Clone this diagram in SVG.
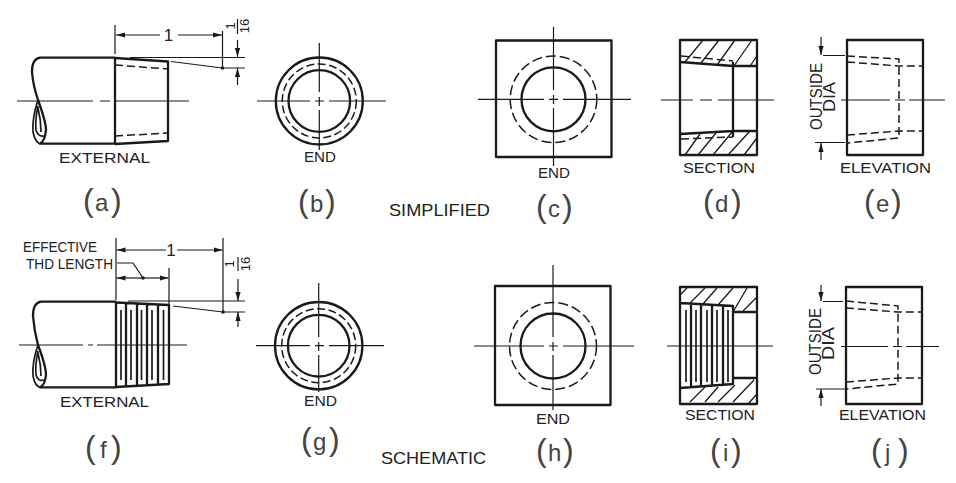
<svg xmlns="http://www.w3.org/2000/svg" width="956" height="483" viewBox="0 0 956 483">
<style>
text{font-family:"Liberation Sans",Arial,sans-serif;fill:#222}
.l{font-size:14.5px}
.t{font-size:17px}
.p{font-size:32px;fill:#444}
.p .m{font-size:24px}
.f{font-size:13px}
.o{font-size:17px}
.k,.n,.d,.h,.b{fill:none;stroke:#1a1a1a;stroke-linejoin:round}
.k{stroke-width:2.3}
.b{stroke-width:1.7}
.n{stroke-width:1.2}
.d{stroke-width:1.5;stroke-dasharray:8 4}
.r{stroke-dasharray:8 3.5}
.q{stroke-dasharray:10 4}
.h{stroke-width:1.3}
.a{fill:none;stroke:#1a1a1a;stroke-width:1.2;marker-end:url(#ah)}
</style>
<defs>
<marker id="ah" markerUnits="userSpaceOnUse" markerWidth="10" markerHeight="6" refX="9" refY="3" orient="auto"><path d="M0 0.4L9 3L0 5.6z" fill="#1a1a1a"/></marker>
</defs>
<rect width="956" height="483" fill="#fff"/>

<g id="node-a">
<path class="k" d="M115 57.7H40Q32 59 32 72Q33 85 38 100Q46 122 46 130Q45 141 40 143.7H115V57.7"/>
<path class="k" d="M115 58L168 61.5L168 141L115 144"/>
<path class="b" d="M38 100Q32 118 33 132Q35 142 40 143.7M38 106Q35 120 36 130Q38 137 44 136M38 108Q41 120 41 132"/>
<path class="d" d="M115 65L168 69M115 136L168 133"/>
<path class="n" d="M17 101H93M100 101H110M116 101H189"/>
<text class="l" x="59" y="163" textLength="91" lengthAdjust="spacingAndGlyphs">EXTERNAL</text>
<text class="p" y="211"><tspan x="83">(</tspan><tspan class="m" x="95">a</tspan><tspan x="111">)</tspan></text>
</g>

<g id="node-b">
<circle class="k" cx="319.300" cy="101" r="43.500"/>
<circle class="d r" cx="319.300" cy="101" r="37"/>
<circle class="k" cx="319.300" cy="101" r="30.800"/>
<path class="n" d="M257 101H310M315 101H324M329 101H386M319.300 43V92M319.300 97V106M319.300 110V150"/>
<text class="l" x="304" y="162" textLength="32" lengthAdjust="spacingAndGlyphs">END</text>
<text class="p" y="212"><tspan x="298">(</tspan><tspan class="m" x="310">b</tspan><tspan x="325">)</tspan></text>
</g>

<text class="t" id="simplified" x="389" y="216" textLength="101" lengthAdjust="spacingAndGlyphs">SIMPLIFIED</text>

<g id="node-c">
<rect class="k" x="496" y="40.500" width="115.500" height="116.500"/>
<circle class="d q" cx="553.500" cy="99.300" r="43.300"/>
<circle class="k" cx="553.500" cy="99.300" r="32"/>
<path class="n" d="M478 99.300H544M549 99.300H558M563 99.300H631M553.500 27V90M553.500 95V104M553.500 108V166"/>
<text class="l" x="538" y="178" textLength="32" lengthAdjust="spacingAndGlyphs">END</text>
<text class="p" y="217"><tspan x="536">(</tspan><tspan class="m" x="548">c</tspan><tspan x="562">)</tspan></text>
</g>

<g id="node-d">
<rect class="k" x="680" y="40" width="77" height="115"/>
<path class="k" d="M680 62L733 66H757M680 134L733 131H757M733 62V137"/>
<path class="d" d="M681 56L733 61M681 139L733 137"/>
<path class="h" d="M685 62L703 40M701 63L719 40M717 65L735 40M734 66L752 40M750 66L757 56M685 155L700 134M698 155L716 133M713 155L733 131M728 155L750 131M744 155L757 138"/>
<path class="n" d="M661 100H693M700 100H712M718 100H774"/>
<text class="l" x="683" y="172.700" textLength="72" lengthAdjust="spacingAndGlyphs">SECTION</text>
<text class="p" y="212"><tspan x="703">(</tspan><tspan class="m" x="715">d</tspan><tspan x="731">)</tspan></text>
</g>

<g id="node-e">
<rect class="k" x="847" y="40" width="76" height="115"/>
<path class="d" d="M847 56L899 59V138L847 143M847 62L899 66H923M847 135L899 131H923"/>
<path class="n" d="M841 100H890M895 100H905M909 100H945"/>
<text class="o" transform="translate(821.500 96.500) rotate(-90)" text-anchor="middle" textLength="67" lengthAdjust="spacingAndGlyphs">OUTSIDE</text>
<text class="o" transform="translate(835 97) rotate(-90)" text-anchor="middle" textLength="30" lengthAdjust="spacingAndGlyphs">DIA</text>
<text class="l" x="840" y="172.700" textLength="91" lengthAdjust="spacingAndGlyphs">ELEVATION</text>
<text class="p" y="212"><tspan x="864">(</tspan><tspan class="m" x="876">e</tspan><tspan x="891">)</tspan></text>
</g>

<g id="node-f">
<path class="k" d="M116 301.700H41Q33 303 33 316Q34 330 38 345Q46 366 46 375Q45 385 40 387.300H116V301.700"/>
<path class="k" d="M116 302.500L169 305V384L116 387M126 303V386M137 303.500V385.500M147 304V385M158 304.500V384.500"/>
<path class="b" d="M38 345Q32 362 33 376Q35 386 40 387.300M38 351Q35 365 36 375Q38 382 44 380M38 353Q41 365 41 376"/>
<path class="b" d="M121 310V380M131 310V380M141.500 310V380M152 310V380M163.500 310V380"/>
<path class="n" d="M19 345H83M88 345H93M97 345H187"/>
<text class="l" x="23" y="252" textLength="74" lengthAdjust="spacingAndGlyphs">EFFECTIVE</text>
<text class="l" x="26" y="269" textLength="87" lengthAdjust="spacingAndGlyphs">THD LENGTH</text>
<text class="l" x="60" y="407" textLength="89" lengthAdjust="spacingAndGlyphs">EXTERNAL</text>
<text class="p" y="458"><tspan x="85">(</tspan><tspan class="m" x="100">f</tspan><tspan x="111">)</tspan></text>
</g>

<g id="node-g">
<circle class="k" cx="318.700" cy="345.700" r="43.700"/>
<circle class="d r" cx="318.700" cy="345.700" r="37"/>
<circle class="k" cx="318.700" cy="345.700" r="30.800"/>
<path class="n" d="M256 345.700H310M315 345.700H324M329 345.700H384M318.700 283V337M318.700 342V351M318.700 355V392"/>
<text class="l" x="304" y="406" textLength="33" lengthAdjust="spacingAndGlyphs">END</text>
<text class="p" y="450"><tspan x="301">(</tspan><tspan class="m" x="313">g</tspan><tspan x="329">)</tspan></text>
</g>

<text class="t" id="schematic" x="381" y="464" textLength="105" lengthAdjust="spacingAndGlyphs">SCHEMATIC</text>

<g id="node-h">
<rect class="k" x="495" y="286" width="115.500" height="119"/>
<circle class="d q" cx="553" cy="346" r="43.500"/>
<circle class="k" cx="553" cy="346" r="32.500"/>
<path class="n" d="M474 346H544M549 346H558M563 346H634M553 265V337M553 342V351M553 355V410"/>
<text class="l" x="536" y="424" textLength="34" lengthAdjust="spacingAndGlyphs">END</text>
<text class="p" y="460.500"><tspan x="536">(</tspan><tspan class="m" x="548">h</tspan><tspan x="563">)</tspan></text>
</g>

<g id="node-i">
<path class="k" d="M680 287H757V404H680ZM680 303L733 306V384L680 388M733 312H757M733 378H757M691 303.500V387.500M701 304V387M712 304.500V386M723 305V385"/>
<path class="b" d="M686 310V382M696 310V382M707 310V382M717 310V382M728 310V382"/>
<path class="h" d="M680 295L687 288M690 303L705 288M703 304L717 288M718 305L733 288M733 312L747 288M742 312L757 297M690 402L705 387M705 402L718 387M718 402L735 385M733 402L754 380M748 404L757 394"/>
<path class="n" d="M667 346H773"/>
<text class="l" x="685" y="420" textLength="70" lengthAdjust="spacingAndGlyphs">SECTION</text>
<text class="p" y="460.500"><tspan x="710">(</tspan><tspan class="m" x="723">i</tspan><tspan x="731">)</tspan></text>
</g>

<g id="node-j">
<rect class="k" x="846" y="287" width="76" height="117"/>
<path class="d" d="M846 301L898 306V384L846 389M846 308L898 312H922M846 382L898 378H922"/>
<path class="n" d="M841 346.500H888M893 346.500H902M906 346.500H939"/>
<text class="o" transform="translate(820.500 341.500) rotate(-90)" text-anchor="middle" textLength="67" lengthAdjust="spacingAndGlyphs">OUTSIDE</text>
<text class="o" transform="translate(834 343.500) rotate(-90)" text-anchor="middle" textLength="33" lengthAdjust="spacingAndGlyphs">DIA</text>
<text class="l" x="839" y="420" textLength="87" lengthAdjust="spacingAndGlyphs">ELEVATION</text>
<text class="p" y="460.500"><tspan x="871">(</tspan><tspan class="m" x="885">j</tspan><tspan x="898">)</tspan></text>
</g>

<g id="connectors">
<path class="n" d="M115 25V54M222.500 31V68M130 57.500H245M222.500 68H245M171 61.500L222.500 68"/>
<path class="a" d="M160 35H116"/><path class="a" d="M178 35H222"/>
<path class="a" d="M237.500 40V57"/><path class="a" d="M237.500 85V68"/>
<circle cx="222.500" cy="68" r="1.800" fill="#1a1a1a"/>
<text class="o" x="168.500" y="41" text-anchor="middle">1</text>
<text class="f" transform="translate(235 26) rotate(-90)" text-anchor="middle">1</text>
<path class="n" d="M237.500 19V34"/>
<text class="f" transform="translate(248.500 26) rotate(-90)" text-anchor="middle">16</text>

<path class="n" d="M116 238V300M169 268V305M223 238V312M128 301H245M223 312H245M173 306L223 312M117 263H133L143 278"/>
<path class="a" d="M143 278H116.500"/><path class="a" d="M143 278H168.500"/>
<circle cx="143" cy="278" r="1.800" fill="#1a1a1a"/>
<path class="a" d="M166 250H116.500"/><path class="a" d="M177 250H222.500"/>
<path class="a" d="M238 279V301"/><path class="a" d="M238 327V312"/>
<circle cx="223" cy="312" r="1.800" fill="#1a1a1a"/>
<text class="o" x="171" y="256" text-anchor="middle">1</text>
<text class="f" transform="translate(234 264) rotate(-90)" text-anchor="middle">1</text>
<path class="n" d="M238 257V271"/>
<text class="f" transform="translate(249.500 264) rotate(-90)" text-anchor="middle">16</text>

<path class="n" d="M823 55.500H845M815 142.500H845"/>
<path class="a" d="M821 37V55"/><path class="a" d="M821 160V143"/>
<path class="n" d="M823 301.500H843M816 389H846"/>
<path class="a" d="M821 285V301"/><path class="a" d="M821 406V389"/>
</g>
</svg>
